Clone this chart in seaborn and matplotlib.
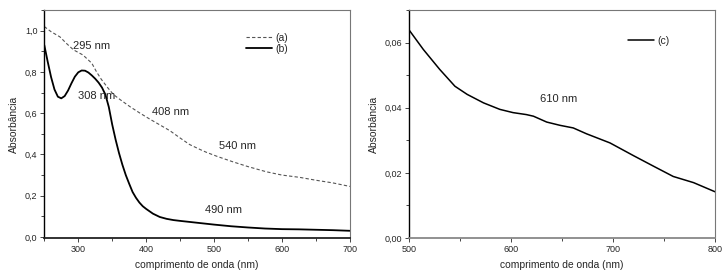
import pandas as pd
import matplotlib
matplotlib.use("Agg")
import matplotlib.pyplot as plt
from matplotlib.ticker import MultipleLocator, FuncFormatter
import seaborn as sns

# (a) dashed curve, left panel
wl_a = [250, 260, 273, 283, 293, 307, 320, 327, 334, 344, 352, 362, 376, 391, 405,
        415, 435, 449, 464, 480, 489, 505, 528, 550, 577, 600, 626, 650, 675, 700]
abs_a = [1.02, 0.995, 0.97, 0.937, 0.907, 0.882, 0.842, 0.80, 0.764, 0.721, 0.69,
         0.665, 0.632, 0.60, 0.572, 0.553, 0.515, 0.482, 0.448, 0.423, 0.41, 0.39,
         0.364, 0.341, 0.316, 0.30, 0.289, 0.275, 0.262, 0.245]

# (b) solid curve, left panel
wl_b = [250, 255, 260, 265, 270, 275, 280, 285, 290, 295, 300, 305, 310, 315, 320,
        325, 330, 335, 340, 345, 350, 355, 360, 365, 370, 375, 380, 385, 390, 395,
        400, 410, 420, 430, 440, 450, 475, 500, 525, 550, 575, 600, 625, 650, 675, 700]
abs_b = [0.93, 0.85, 0.775, 0.715, 0.68, 0.672, 0.683, 0.71, 0.745, 0.777, 0.798,
         0.807, 0.806, 0.797, 0.783, 0.767, 0.748, 0.724, 0.69, 0.63, 0.545, 0.472,
         0.407, 0.35, 0.30, 0.258, 0.218, 0.19, 0.167, 0.149, 0.136, 0.113, 0.097,
         0.088, 0.082, 0.078, 0.069, 0.060, 0.052, 0.046, 0.041, 0.038, 0.037, 0.035,
         0.033, 0.030]

# (c) right panel
wl_c = [500, 514, 530, 545, 557, 573, 589, 602, 615, 622, 635, 648, 661, 674, 697,
        720, 740, 759, 779, 800]
abs_c = [0.0639, 0.0579, 0.0518, 0.0466, 0.0441, 0.0415, 0.0395, 0.0385, 0.0379,
         0.0374, 0.0356, 0.0346, 0.0338, 0.0320, 0.0292, 0.0253, 0.0220, 0.0189,
         0.0170, 0.0142]

# peak labels
labels_left = ["295 nm", "308 nm", "408 nm", "540 nm", "490 nm"]
label_x_left = [292, 300, 408, 507, 486]
label_y_left = [0.927, 0.685, 0.608, 0.44, 0.131]
labels_right = ["610 nm"]
label_x_right = [628]
label_y_right = [0.0426]

sns.set_style("ticks")
plt.rcParams['font.family'] = ['Liberation Sans', 'DejaVu Sans']

df_a = pd.DataFrame({'wl': wl_a, 'A': abs_a})
df_b = pd.DataFrame({'wl': wl_b, 'A': abs_b})
df_c = pd.DataFrame({'wl': wl_c, 'A': abs_c})

fig = plt.figure(figsize=(7.26, 2.75), dpi=100)
ax1 = fig.add_axes([0.061, 0.1345, 0.421, 0.829])
ax2 = fig.add_axes([0.5634, 0.1345, 0.4215, 0.829])

sns.lineplot(data=df_a, x='wl', y='A', ax=ax1, color='#555555', lw=0.8,
             linestyle=(0, (3, 2)), label='(a)')
sns.lineplot(data=df_b, x='wl', y='A', ax=ax1, color='black', lw=1.3, label='(b)')
sns.lineplot(data=df_c, x='wl', y='A', ax=ax2, color='black', lw=1.1, label='(c)')

for t, x, y in zip(labels_left, label_x_left, label_y_left):
    ax1.text(x, y, t, fontsize=8, ha='left', va='center')
for t, x, y in zip(labels_right, label_x_right, label_y_right):
    ax2.text(x, y, t, fontsize=8, ha='left', va='center')

comma = lambda nd: FuncFormatter(lambda v, p: f"{v:.{nd}f}".replace('.', ','))

ax1.set_xlim(250, 700)
ax1.set_ylim(-0.005, 1.1)
ax1.xaxis.set_major_locator(MultipleLocator(100))
ax1.xaxis.set_minor_locator(MultipleLocator(50))
ax1.yaxis.set_major_locator(MultipleLocator(0.2))
ax1.yaxis.set_minor_locator(MultipleLocator(0.1))
ax1.yaxis.set_major_formatter(comma(1))

ax2.set_xlim(500, 800)
ax2.set_ylim(0, 0.07)
ax2.xaxis.set_major_locator(MultipleLocator(100))
ax2.xaxis.set_minor_locator(MultipleLocator(50))
ax2.yaxis.set_major_locator(MultipleLocator(0.02))
ax2.yaxis.set_minor_locator(MultipleLocator(0.01))
ax2.yaxis.set_major_formatter(comma(2))

for ax in (ax1, ax2):
    ax.set_xlabel("comprimento de onda (nm)", fontsize=7.4, labelpad=4)
    ax.set_ylabel("Absorbância", fontsize=7.4, labelpad=4)
    ax.tick_params(which='major', direction='out', length=3, width=0.6, labelsize=6.5, pad=2)
    ax.tick_params(which='minor', direction='out', length=2, width=0.6)
    for s in ('top', 'right'):
        ax.spines[s].set_visible(True)
        ax.spines[s].set_color('#777777')
        ax.spines[s].set_linewidth(0.8)
    ax.spines['left'].set_color('black')
    ax.spines['left'].set_linewidth(1.0)
    ax.spines['bottom'].set_linewidth(1.3)
ax1.spines['bottom'].set_color('#222222')
ax2.spines['bottom'].set_color('#888888')

ax1.legend(loc='upper left', bbox_to_anchor=(0.66, 0.90), frameon=False, fontsize=7.5,
           handlelength=2.5, handletextpad=0.3, labelspacing=0.1, borderpad=0,
           borderaxespad=0)
ax2.legend(loc='upper left', bbox_to_anchor=(0.715, 0.888), frameon=False, fontsize=7.5,
           handlelength=2.5, handletextpad=0.3, labelspacing=0.1, borderpad=0,
           borderaxespad=0)

fig.savefig("out.png", dpi=100)
